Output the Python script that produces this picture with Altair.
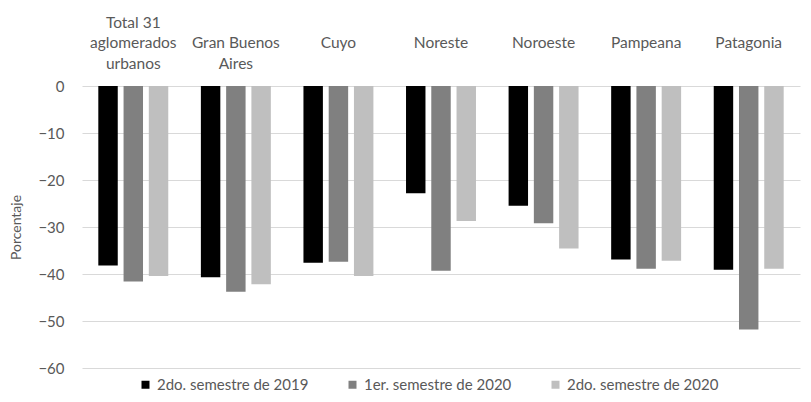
import altair as alt
import pandas as pd

regions = ["Total 31\naglomerados\nurbanos", "Gran Buenos\nAires", "Cuyo", "Noreste",
           "Noroeste", "Pampeana", "Patagonia"]
series = ["2do. semestre de 2019", "1er. semestre de 2020", "2do. semestre de 2020"]
s2019_2 = [-38.2, -40.7, -37.6, -22.8, -25.5, -36.9, -39.1]
s2020_1 = [-41.6, -43.8, -37.4, -39.3, -29.2, -38.9, -51.8]
s2020_2 = [-40.4, -42.2, -40.4, -28.7, -34.6, -37.2, -38.9]
colors = ["#000000", "#808080", "#BFBFBF"]

rows = []
for vals, s in zip([s2019_2, s2020_1, s2020_2], series):
    for r, v in zip(regions, vals):
        rows.append({"region": r, "serie": s, "valor": v})
df = pd.DataFrame(rows)

FONT = "Lato"
GRAY = "#595959"

label_expr = ("split((length(split(datum.label,'\\n'))==1 ? '\\n\\n' : "
              "(length(split(datum.label,'\\n'))==2 ? '\\n' : '')) + datum.label, '\\n')")

chart = alt.Chart(df).mark_bar().encode(
    x=alt.X("region:N", sort=regions, title=None,
            scale=alt.Scale(paddingInner=0.318, paddingOuter=0.159),
            axis=alt.Axis(orient="top", domain=False, ticks=False, labelAngle=0,
                          labelExpr=label_expr, labelPadding=59,
                          labelColor=GRAY, labelFontSize=15.5, labelFont=FONT,
                          labelLineHeight=20.5, labelBaseline="alphabetic")),
    xOffset=alt.XOffset("serie:N", sort=series,
                        scale=alt.Scale(paddingInner=0.23, paddingOuter=0.0)),
    y=alt.Y("valor:Q", title="Porcentaje",
            scale=alt.Scale(domain=[-60, 0], nice=False),
            axis=alt.Axis(values=[0, -10, -20, -30, -40, -50, -60], domain=False, ticks=False,
                          labelColor=GRAY, labelFontSize=15, labelFont=FONT, labelPadding=18,
                          gridColor="#D9D9D9", gridWidth=1,
                          titleColor=GRAY, titleFontSize=14, titleFont=FONT,
                          titleFontWeight="normal", titleX=-59, titleY=141,
                          titleAngle=-90, titleBaseline="bottom", titleAlign="center")),
    color=alt.Color("serie:N", sort=series, title=None,
                    scale=alt.Scale(domain=series, range=colors),
                    legend=alt.Legend(orient="none", direction="horizontal",
                                      legendX=56, legendY=291,
                                      symbolType="square", symbolSize=64,
                                      symbolStrokeWidth=0, labelColor=GRAY,
                                      labelFontSize=15, labelFont=FONT, labelLimit=400,
                                      columnPadding=36, labelOffset=4)),
).properties(
    width=718, height=282,
    autosize=alt.AutoSizeParams(type="none"),
    padding={"left": 74, "top": 78, "right": 3, "bottom": 26},
).configure_view(stroke=None)

chart.save("out.html", embed_options={"renderer": "svg", "actions": False})
